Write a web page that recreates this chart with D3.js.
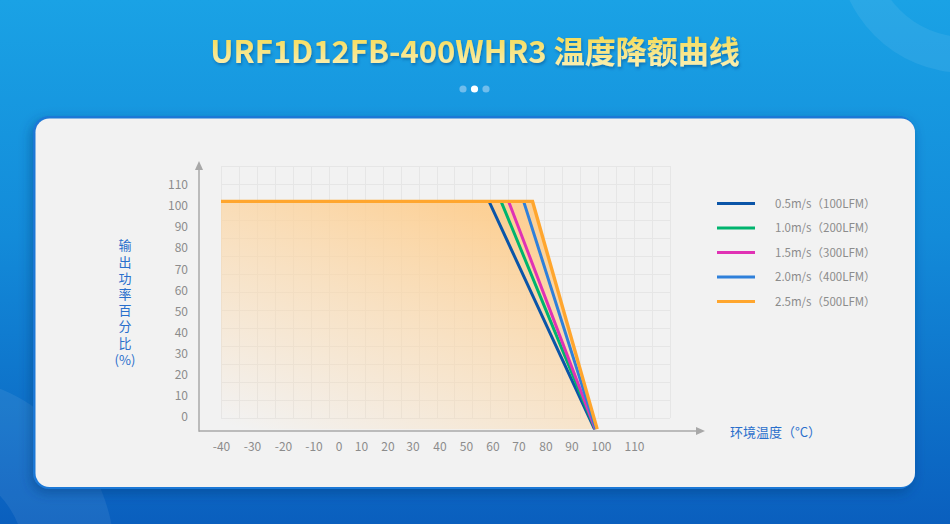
<!DOCTYPE html>
<html>
<head>
<meta charset="utf-8">
<script src="https://cdn.jsdelivr.net/npm/d3@7"></script>
<style>
  html, body { margin: 0; padding: 0; background: #0b6cc8; }
  svg { display: block; }
  text { font-family: "Noto Sans CJK SC", "Noto Sans", sans-serif; }
</style>
</head>
<body>
<svg id="chart" width="950" height="524"></svg>
<script>
// ---------------- data ----------------
const titleText = "URF1D12FB-400WHR3 温度降额曲线";
const seriesNames = ["0.5m/s（100LFM）", "1.0m/s（200LFM）", "1.5m/s（300LFM）", "2.0m/s（400LFM）", "2.5m/s（500LFM）"];
const xTicks = [-40, -30, -20, -10, 0, 10, 20, 30, 40, 50, 60, 70, 80, 90, 100, 110];
const yTicks = [0, 10, 20, 30, 40, 50, 60, 70, 80, 90, 100, 110];
const xAxisTitle = "环境温度（°C）";
const yAxisTitle = "输出功率百分比";
const yAxisUnit = "(%)";
// each series: [temperature, output %]
const s05 = [[-40, 102.2], [58.7, 102.2], [97.8, -6]];
const s10 = [[-40, 102.2], [63.3, 102.2], [98.0, -6]];
const s15 = [[-40, 102.2], [66.2, 102.2], [98.1, -6]];
const s20 = [[-40, 102.2], [71.9, 102.2], [98.3, -6]];
const s25 = [[-40, 102.2], [75.2, 102.2], [98.7, -6]];
const seriesData = [s05, s10, s15, s20, s25];

// ---------------- styles ----------------
const seriesColors = ["#0b55a8", "#00b46e", "#e032b4", "#2f80da", "#ffa62e"];

const svg = d3.select("#chart");
const W = 950, H = 524;
const defs = svg.append("defs");

// background gradient
const bg = defs.append("linearGradient").attr("id", "bgGrad")
  .attr("x1", 0).attr("y1", 0).attr("x2", 0).attr("y2", 1);
bg.append("stop").attr("offset", "0%").attr("stop-color", "#1aa2e5");
bg.append("stop").attr("offset", "45%").attr("stop-color", "#138bd9");
bg.append("stop").attr("offset", "100%").attr("stop-color", "#0a5fbe");

const tg = defs.append("linearGradient").attr("id", "titleGrad")
  .attr("x1", 0).attr("y1", 0).attr("x2", 0).attr("y2", 1);
tg.append("stop").attr("offset", "0%").attr("stop-color", "#f3d53c");
tg.append("stop").attr("offset", "100%").attr("stop-color", "#fbf3c2");

const ts = defs.append("filter").attr("id", "titleShadow").attr("x", "-10%").attr("y", "-30%").attr("width", "120%").attr("height", "160%");
ts.append("feDropShadow").attr("dx", 1).attr("dy", 2).attr("stdDeviation", 1.5).attr("flood-color", "#06407a").attr("flood-opacity", 0.45);

const cs = defs.append("filter").attr("id", "cardShadow").attr("x", "-5%").attr("y", "-5%").attr("width", "110%").attr("height", "115%");
cs.append("feDropShadow").attr("dx", -2).attr("dy", 4).attr("stdDeviation", 6).attr("flood-color", "#053a78").attr("flood-opacity", 0.45);

const fillGrad = defs.append("linearGradient").attr("id", "fillGrad")
  .attr("x1", 0.05).attr("y1", 1).attr("x2", 0.7).attr("y2", 0.05);
fillGrad.append("stop").attr("offset", "0%").attr("stop-color", "#fdd7a6").attr("stop-opacity", 0);
fillGrad.append("stop").attr("offset", "45%").attr("stop-color", "#fcd7a6").attr("stop-opacity", 0.5);
fillGrad.append("stop").attr("offset", "100%").attr("stop-color", "#fdcf92").attr("stop-opacity", 0.95);

// background
svg.append("rect").attr("width", W).attr("height", H).attr("fill", "url(#bgGrad)");
// decorative rings
const ring = d3.arc();
svg.append("path")
  .attr("transform", "translate(965,-55)")
  .attr("d", ring({innerRadius: 92, outerRadius: 128, startAngle: 0, endAngle: 2 * Math.PI}))
  .attr("fill", "#ffffff").attr("fill-opacity", 0.07);
svg.append("path")
  .attr("transform", "translate(-70,560)")
  .attr("d", ring({innerRadius: 95, outerRadius: 185, startAngle: 0, endAngle: 2 * Math.PI}))
  .attr("fill", "#ffffff").attr("fill-opacity", 0.07);

// title
svg.append("text")
  .attr("x", W / 2).attr("y", 63)
  .attr("text-anchor", "middle")
  .attr("font-size", 31).attr("font-weight", 700)
  .attr("fill", "url(#titleGrad)")
  .attr("filter", "url(#titleShadow)")
  .text(titleText);

// pager dots
const dotX = d3.scalePoint().domain([0, 1, 2]).range([463, 486]);
svg.selectAll("circle.dot").data([0, 1, 2]).join("circle")
  .attr("class", "dot")
  .attr("cx", d => dotX(d)).attr("cy", 89).attr("r", 3.6)
  .attr("fill", d => d === 1 ? "#ffffff" : "#8fcaf0")
  .attr("fill-opacity", d => d === 1 ? 1 : 0.75);

// card
svg.append("rect")
  .attr("x", 33).attr("y", 116).attr("width", 882).attr("height", 373).attr("rx", 16)
  .attr("fill", "#1b78d6").attr("filter", "url(#cardShadow)");
svg.append("rect")
  .attr("x", 35.5).attr("y", 118.5).attr("width", 879.5).attr("height", 368.5).attr("rx", 14)
  .attr("fill", "#f2f2f2");

// ---------------- scales ----------------
const x = d3.scaleLinear()
  .domain(xTicks)
  .range([221, 252, 283, 313.5, 338.5, 361, 387.5, 412.5, 439.5, 466, 492.5, 518.5, 545.5, 571.5, 601, 634]);
const y = d3.scaleLinear().domain([0, 110]).range([416.5, 185]);

// decorative background grid
const gx = d3.scaleLinear().domain([0, 25]).range([221, 670]);
const gy = d3.scaleLinear().domain([0, 14]).range([166, 418]);
const grid = svg.append("g").attr("stroke", "#e6e6e6").attr("stroke-width", 1);
grid.selectAll("line.v").data(d3.range(0, 26)).join("line")
  .attr("x1", d => Math.round(gx(d)) + 0.5).attr("x2", d => Math.round(gx(d)) + 0.5)
  .attr("y1", gy(0)).attr("y2", gy(14));
grid.selectAll("line.h").data(d3.range(0, 15)).join("line")
  .attr("y1", d => Math.round(gy(d)) + 0.5).attr("y2", d => Math.round(gy(d)) + 0.5)
  .attr("x1", gx(0)).attr("x2", gx(25));

// fill under the 2.5 m/s curve
const baseVal = d3.min(s25, d => d[1]);
const area = d3.area().x(d => x(d[0])).y0(y(baseVal)).y1(d => y(d[1]));
svg.append("path").datum(s25).attr("d", area).attr("fill", "url(#fillGrad)");

// axes
const axisColor = "#a8a8a8";
const xAxisY = 431, yAxisX = 199;
svg.append("line").attr("x1", yAxisX).attr("x2", 697).attr("y1", xAxisY).attr("y2", xAxisY)
  .attr("stroke", axisColor).attr("stroke-width", 1.5);
svg.append("path").attr("d", `M705,${xAxisY} L696,${xAxisY - 4} L696,${xAxisY + 4} Z`).attr("fill", axisColor);
svg.append("line").attr("x1", yAxisX).attr("x2", yAxisX).attr("y1", xAxisY + 0.75).attr("y2", 168)
  .attr("stroke", axisColor).attr("stroke-width", 1.5);
svg.append("path").attr("d", `M${yAxisX},161 L${yAxisX - 4},170 L${yAxisX + 4},170 Z`).attr("fill", axisColor);

// tick labels via d3 axes (no lines)
const xAxisG = svg.append("g").attr("transform", `translate(0,${xAxisY})`)
  .call(d3.axisBottom(x).tickValues(xTicks).tickSize(0).tickPadding(11).tickFormat(d => String(d)));
xAxisG.select(".domain").remove();
xAxisG.selectAll("text").attr("fill", "#8c8c8c").attr("font-size", 12)
  .attr("font-family", "'Noto Sans CJK SC', 'Noto Sans', sans-serif");

const yAxisG = svg.append("g").attr("transform", `translate(188,0)`)
  .call(d3.axisLeft(y).tickValues(yTicks).tickSize(0).tickPadding(0).tickFormat(d => String(d)));
yAxisG.select(".domain").remove();
yAxisG.selectAll("text").attr("fill", "#8c8c8c").attr("font-size", 12)
  .attr("font-family", "'Noto Sans CJK SC', 'Noto Sans', sans-serif");

// series lines (orange drawn last, covering the shared plateau)
const line = d3.line().x(d => x(d[0])).y(d => y(d[1]));
svg.append("g").selectAll("path").data(seriesData).join("path")
  .attr("d", d => line(d))
  .attr("fill", "none")
  .attr("stroke", (d, i) => seriesColors[i])
  .attr("stroke-width", (d, i) => i === seriesData.length - 1 ? 3.4 : 3)
  .attr("stroke-linejoin", "miter");

// axis titles
svg.append("text").attr("x", 730).attr("y", 437)
  .attr("font-size", 13).attr("fill", "#2a6fcc")
  .text(xAxisTitle);
// vertical title as one vertical text run
svg.append("text")
  .attr("x", 125).attr("y", 239)
  .attr("font-size", 13).attr("fill", "#2a6fcc")
  .style("writing-mode", "vertical-rl")
  .style("text-orientation", "upright")
  .style("letter-spacing", "3.2px")
  .text(yAxisTitle);
svg.append("text")
  .attr("x", 125).attr("y", 360).attr("dy", "0.36em")
  .attr("text-anchor", "middle")
  .attr("font-size", 13).attr("fill", "#2a6fcc")
  .text(yAxisUnit);

// legend
const legY = d3.scalePoint().domain(d3.range(seriesNames.length)).range([203.5, 301.5]);
const leg = svg.append("g").selectAll("g").data(seriesNames).join("g")
  .attr("transform", (d, i) => `translate(717,${legY(i)})`);
leg.append("line").attr("x1", 0).attr("x2", 38).attr("y1", 0).attr("y2", 0)
  .attr("stroke", (d, i) => seriesColors[i]).attr("stroke-width", 3);
leg.append("text").attr("x", 58).attr("dy", "0.35em")
  .attr("font-size", 11.5).attr("fill", "#8c8c8c")
  .text(d => d);
</script>
</body>
</html>
